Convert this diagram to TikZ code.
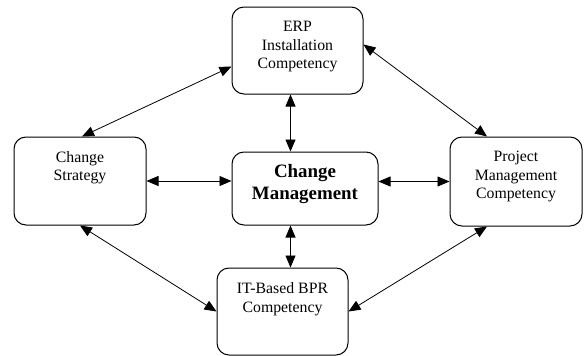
\documentclass[tikz,border=0pt]{standalone}
\usepackage{fontspec}
\setmainfont{Liberation Serif}
\usetikzlibrary{arrows.meta}

\begin{document}
\begin{tikzpicture}[x=1pt, y=-1pt,
                    box/.style 2 args={draw, rounded corners=12pt, line width=1pt,
                        minimum width=#1, minimum height=#2, inner sep=0},
                    txt/.style={align=center, inner sep=0, anchor=north,
                        font=\fontsize{15.8}{18.5}\selectfont},
                    link/.style={line width=0.8pt,
                        {Triangle[length=12pt,width=10pt]}-{Triangle[length=12pt,width=10pt]}}]
                \useasboundingbox (0,0) rectangle (584,356);

                \node[box={131pt}{87pt}] (erp) at (297.5,50.5) {};
                \node[box={132pt}{88pt}] (strat) at (80,181) {};
                \node[box={146pt}{73pt}] (cm) at (305,188.5) {};
                \node[box={132pt}{89pt}] (pm) at (516,181.5) {};
                \node[box={131pt}{87pt}] (bpr) at (282.5,311.5) {};

                \node[txt] (erptxt) at ([yshift=-14.5pt]erp.north) {ERP\\Installation\\Competency};
                \node[txt] (strattxt) at ([yshift=-14.5pt]strat.north) {Change\\Strategy};
                \node[txt, font=\fontsize{18.9}{22}\selectfont\bfseries] (cmtxt)
                    at ([yshift=-13pt]cm.north) {Change\\Management};
                \node[txt] (pmtxt) at ([yshift=-14.5pt]pm.north) {Project\\Management\\Competency};
                \node[txt] (bprtxt) at ([yshift=-15pt]bpr.north) {IT-Based BPR\\Competency};

                \draw[link] ([xshift=-7pt]erp.south) -- ([xshift=-14.5pt]cm.north);
                \draw[link] ([xshift=-14.5pt]cm.south) -- ([xshift=8pt]bpr.north);
                \draw[link] (strat.east) -- (strat.east -| cm.west);
                \draw[link] (pm.west -| cm.east) -- (pm.west);

                \draw[link] ([yshift=-16pt]erp.west) -- ([xshift=2pt]strat.north);
                \draw[link] ([yshift=6pt]erp.east) -- ([xshift=-29pt]pm.north);
                \draw[link] (strat.south) -- (bpr.west);
                \draw[link] ([xshift=-29pt]pm.south) -- (bpr.east);
            \end{tikzpicture}
\end{document}
